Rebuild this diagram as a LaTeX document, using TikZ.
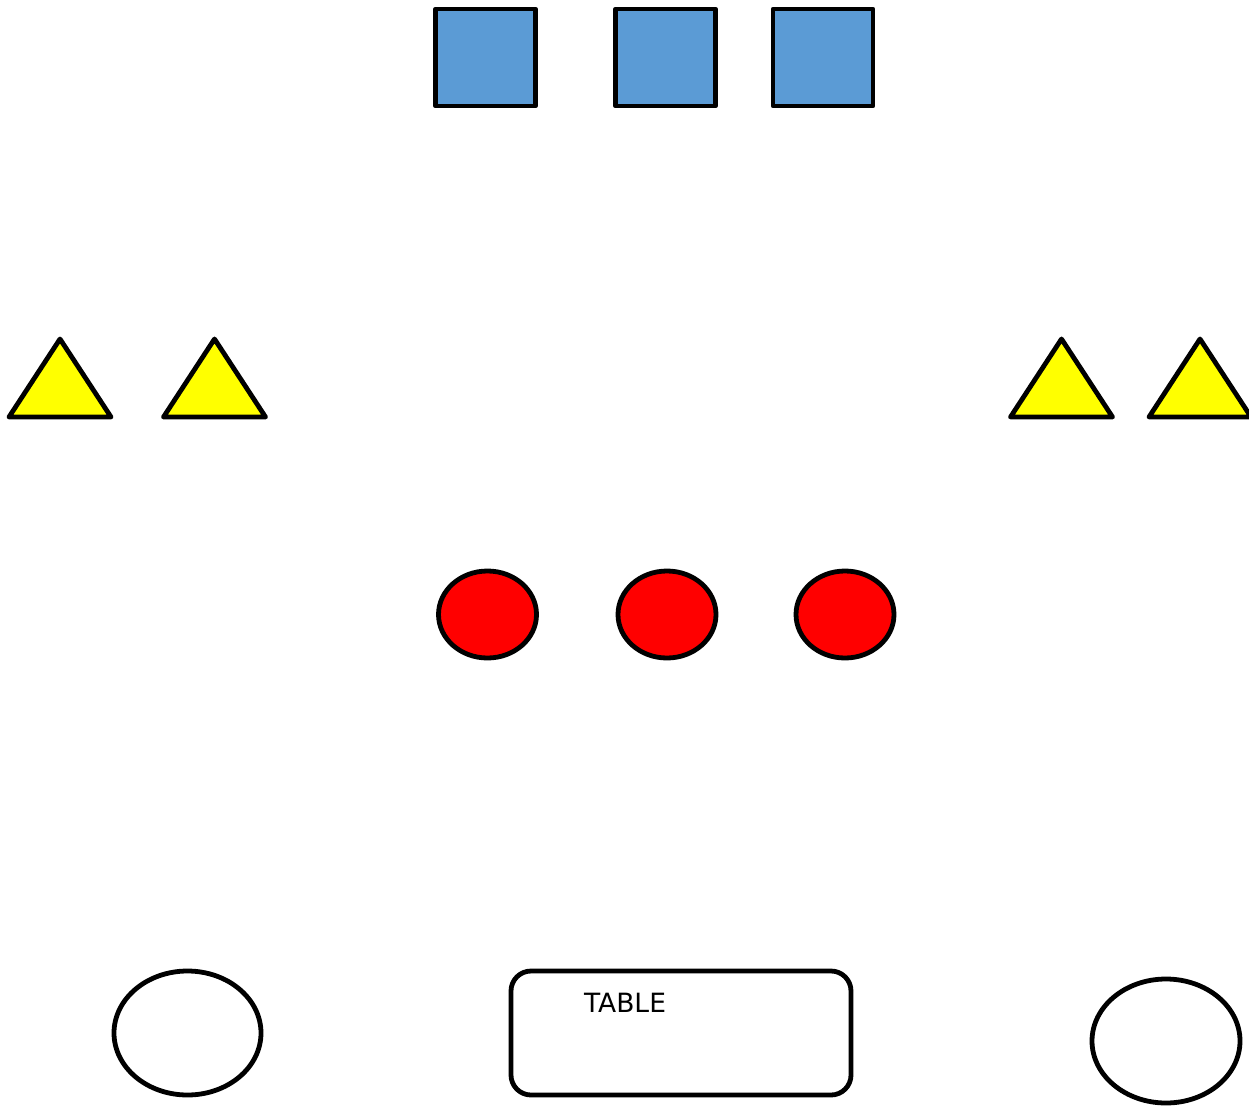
\documentclass[tikz,border=0pt]{standalone}
\usepackage{fontspec}
\setmainfont{DejaVu Sans}
\usetikzlibrary{shapes.geometric}
\definecolor{sqblue}{HTML}{5B9BD5}
\definecolor{tryellow}{HTML}{FFFF00}
\definecolor{dotred}{HTML}{FF0000}
\begin{document}
\begin{tikzpicture}[x=1pt,y=-1pt,
  outline/.style={draw=black,line width=4.8pt,line join=round},
  sq/.style={outline,fill=sqblue,rectangle,minimum width=100pt,minimum height=97pt,inner sep=0pt},
  reddot/.style={outline,fill=dotred,ellipse,minimum width=98pt,minimum height=87pt,inner sep=0pt},
  seat/.style={outline,fill=white,ellipse,minimum width=147pt,minimum height=124pt,inner sep=0pt},
  tablebox/.style={outline,fill=white,rectangle,rounded corners=20pt,minimum width=340pt,minimum height=124pt,inner sep=0pt},
  tri/.style={outline,fill=tryellow}
]
\useasboundingbox (0,0) rectangle (1249,1105);
\clip (0,0) rectangle (1249,1105);
% blue squares
\node[sq] (s1) at (485.5,57.5) {};
\node[sq] (s2) at (665.5,57.5) {};
\node[sq] (s3) at (823,57.5) {};
% yellow triangles
\draw[tri] (9,417) -- (60,339) -- (111,417) -- cycle;
\draw[tri] (163.5,417) -- (214.5,339) -- (265.5,417) -- cycle;
\draw[tri] (1010.5,417) -- (1061.5,339) -- (1112.5,417) -- cycle;
\draw[tri] (1149,417) -- (1200,339) -- (1251,417) -- cycle;
% red dots
\node[reddot] (r1) at (487.5,614.5) {};
\node[reddot] (r2) at (667,614.5) {};
\node[reddot] (r3) at (845,614.5) {};
% bottom
\node[seat] (e1) at (187.5,1033) {};
\node[seat,minimum width=148pt] (e2) at (1166,1041) {};
\node[tablebox] (tb) at (681,1033) {};
\node[font=\fontsize{26.5}{31}\selectfont,inner sep=0pt] (tl) at (625,1003) {TABLE};
\end{tikzpicture}
\end{document}
